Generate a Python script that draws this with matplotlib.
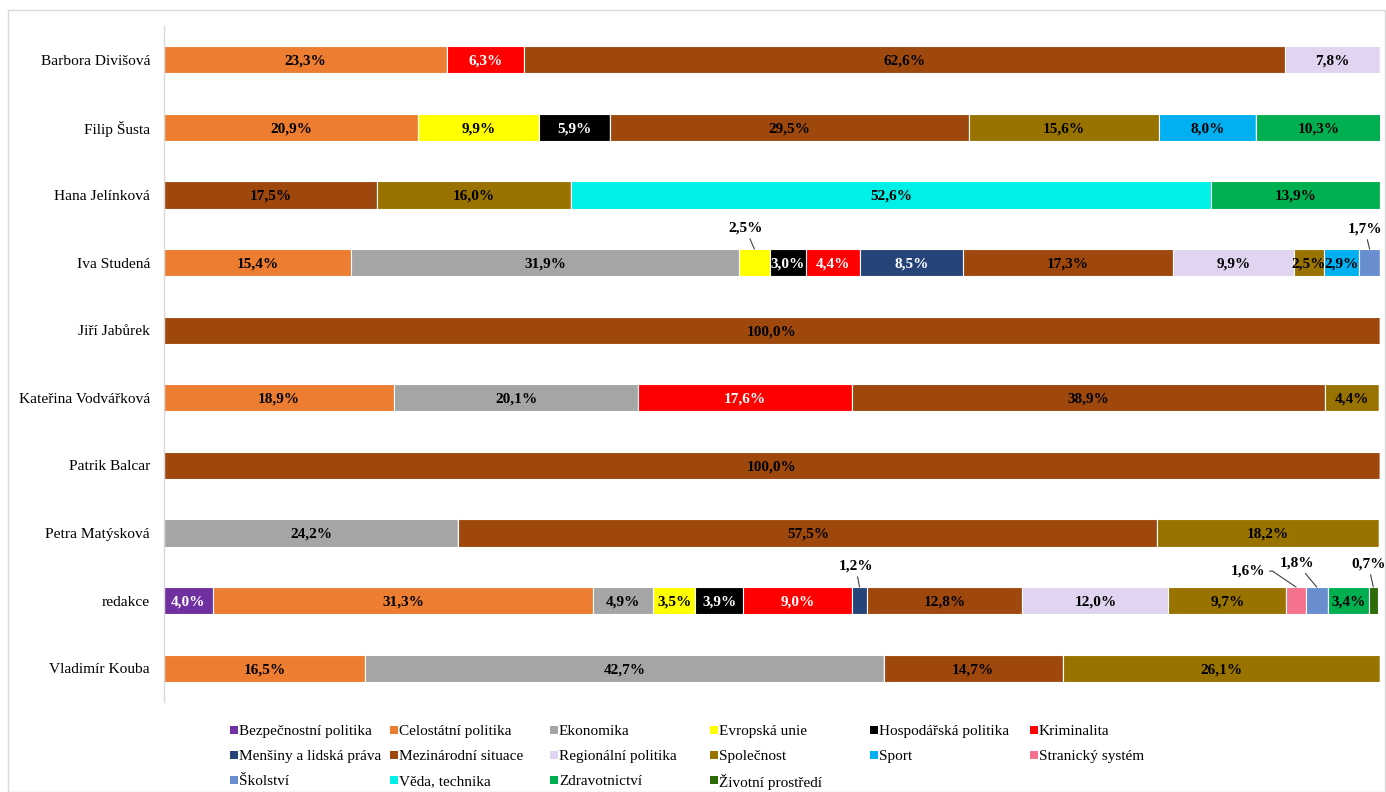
import matplotlib
matplotlib.use("Agg")
import matplotlib.pyplot as plt
from matplotlib.patches import Rectangle

plt.rcParams['font.family'] = ['Liberation Serif', 'DejaVu Serif']

people = ["Barbora Divišová", "Filip Šusta", "Hana Jelínková", "Iva Studená",
          "Jiří Jabůrek", "Kateřina Vodvářková", "Patrik Balcar",
          "Petra Matýsková", "redakce", "Vladimír Kouba"]

categories = ["Bezpečnostní politika", "Celostátní politika", "Ekonomika",
              "Evropská unie", "Hospodářská politika", "Kriminalita",
              "Menšiny a lidská práva", "Mezinárodní situace", "Regionální politika",
              "Společnost", "Sport", "Stranický systém",
              "Školství", "Věda, technika", "Zdravotnictví", "Životní prostředí"]

colors = ["#7030A0", "#ED7D31", "#A5A5A5", "#FFFF00", "#000000", "#FF0000",
          "#264478", "#9E480E", "#E0D4F0", "#997300", "#00B0F0", "#F4728E",
          "#698ED0", "#00F0E8", "#00B050", "#2E6B08"]

white_label = {"Bezpečnostní politika", "Hospodářská politika", "Kriminalita",
               "Menšiny a lidská práva"}

# values per category, in order of people (0 = not present)
bezpecnostni = [0, 0, 0, 0, 0, 0, 0, 0, 4.0, 0]
celostatni   = [23.3, 20.9, 0, 15.4, 0, 18.9, 0, 0, 31.3, 16.5]
ekonomika    = [0, 0, 0, 31.9, 0, 20.1, 0, 24.2, 4.9, 42.7]
evropska     = [0, 9.9, 0, 2.5, 0, 0, 0, 0, 3.5, 0]
hospodarska  = [0, 5.9, 0, 3.0, 0, 0, 0, 0, 3.9, 0]
kriminalita  = [6.3, 0, 0, 4.4, 0, 17.6, 0, 0, 9.0, 0]
mensiny      = [0, 0, 0, 8.5, 0, 0, 0, 0, 1.2, 0]
mezinarodni  = [62.6, 29.5, 17.5, 17.3, 100.0, 38.9, 100.0, 57.5, 12.8, 14.7]
regionalni   = [7.8, 0, 0, 9.9, 0, 0, 0, 0, 12.0, 0]
spolecnost   = [0, 15.6, 16.0, 2.5, 0, 4.4, 0, 18.2, 9.7, 26.1]
sport        = [0, 8.0, 0, 2.9, 0, 0, 0, 0, 0, 0]
stranicky    = [0, 0, 0, 0, 0, 0, 0, 0, 1.6, 0]
skolstvi     = [0, 0, 0, 1.7, 0, 0, 0, 0, 1.8, 0]
veda         = [0, 0, 52.6, 0, 0, 0, 0, 0, 0, 0]
zdravotnictvi = [0, 10.3, 13.9, 0, 0, 0, 0, 0, 3.4, 0]
zivotni      = [0, 0, 0, 0, 0, 0, 0, 0, 0.7, 0]

series = [bezpecnostni, celostatni, ekonomika, evropska, hospodarska, kriminalita,
          mensiny, mezinarodni, regionalni, spolecnost, sport, stranicky,
          skolstvi, veda, zdravotnictvi, zivotni]

# callout labels placed outside the bar: (person, category) -> (dx px, dy px, connection)
callouts = {
    ("Iva Studená", "Evropská unie"): (-9, 21, "arc3"),
    ("Iva Studená", "Školství"): (-5, 20, "arc3"),
    ("redakce", "Menšiny a lidská práva"): (-4, 21, "arc3"),
    ("redakce", "Stranický systém"): (-48, 16, "angle,angleA=0,angleB=-34,rad=0"),
    ("redakce", "Školství"): (-20, 24, "arc3"),
    ("redakce", "Životní prostředí"): (-5, 23, "arc3"),
}

W, H = 1386, 792
fig = plt.figure(figsize=(W / 100, H / 100), dpi=100)
fig.patches.append(Rectangle((8 / W, 0), (W - 9) / W, (H - 10) / H,
                             transform=fig.transFigure, fill=False,
                             edgecolor="#D9D9D9", linewidth=1))

ax = fig.add_axes([164 / W, 1 - 702 / H, 1216 / W, 676 / H])
ypos = list(range(len(people)))
left = [0.0] * len(people)
bar_h = 0.4
lab_fs = 11
for cat, col, vals in zip(categories, colors, series):
    ax.barh(ypos, vals, left=left, height=bar_h, color=col,
            edgecolor="white", linewidth=0.8)
    for i, v in enumerate(vals):
        if v <= 0:
            continue
        txt = f"{v:.1f}".replace(".", ",") + "%"
        cx = left[i] + v / 2
        key = (people[i], cat)
        if key in callouts:
            dx, dy, cs = callouts[key]
            ax.annotate(txt, xy=(cx, i - bar_h / 2), xytext=(dx, dy),
                        textcoords="offset pixels", ha="center", va="center",
                        fontsize=lab_fs, fontweight="bold", color="black",
                        arrowprops=dict(arrowstyle="-", color="#404040",
                                        linewidth=0.8, connectionstyle=cs,
                                        shrinkA=1, shrinkB=0))
        else:
            ax.text(cx, i, txt, ha="center", va="center_baseline", fontsize=lab_fs,
                    fontweight="bold",
                    color="white" if cat in white_label else "black")
    left = [l + v for l, v in zip(left, vals)]

ax.set_xlim(0, 100)
ax.set_ylim(len(people) - 0.5, -0.5)
ax.set_yticks(ypos)
ax.set_yticklabels(people, fontsize=11.1)
ax.tick_params(axis="y", length=0, pad=10)
ax.set_xticks([])
for s in ["top", "right", "bottom"]:
    ax.spines[s].set_visible(False)
ax.spines["left"].set_color("#D9D9D9")
ax.spines["left"].set_linewidth(1)

# legend (row-major, 6 columns)
for k, (cat, col) in enumerate(zip(categories, colors)):
    r, c = divmod(k, 6)
    x0 = 230 + c * 160
    y0 = 730 + r * 25
    fig.patches.append(Rectangle((x0 / W, 1 - (y0 + 4) / H), 8 / W, 8 / H,
                                 transform=fig.transFigure, facecolor=col,
                                 edgecolor="none"))
    fig.text((x0 + 9) / W, 1 - y0 / H, cat, ha="left", va="center_baseline",
             fontsize=11)

fig.savefig("out.png", dpi=100)
